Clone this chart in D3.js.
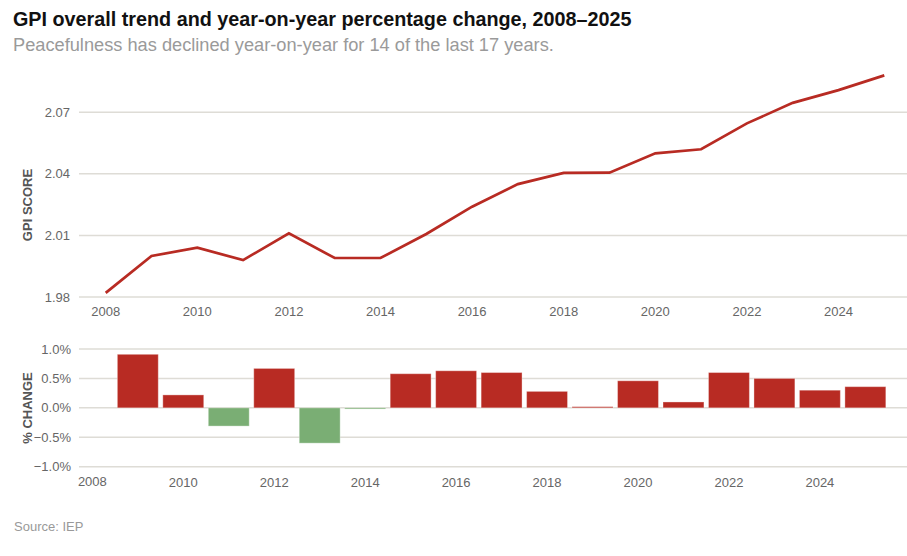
<!DOCTYPE html>
<html>
<head>
<meta charset="utf-8">
<script src="https://cdn.jsdelivr.net/npm/d3@7"></script>
<style>
  body { margin: 0; background: #fff; }
  text { font-family: "Liberation Sans", Arial, Helvetica, sans-serif; }
</style>
</head>
<body>
<div id="graphicContainer"></div>
<script>
// GPI overall score by year
var years = [2008, 2009, 2010, 2011, 2012, 2013, 2014, 2015, 2016, 2017, 2018, 2019, 2020, 2021, 2022, 2023, 2024, 2025]
var gpiScore = [1.982, 2.000, 2.004, 1.998, 2.011, 1.999, 1.999, 2.0107, 2.024, 2.035, 2.0405, 2.0406, 2.050, 2.052, 2.0646, 2.0746, 2.0808, 2.088]
// year-on-year % change (no value for 2008)
var pctChange = [null, 0.91, 0.22, -0.31, 0.67, -0.60, -0.02, 0.58, 0.63, 0.60, 0.28, 0.02, 0.46, 0.10, 0.60, 0.50, 0.30, 0.36]
var scoreTicks = [1.98, 2.01, 2.04, 2.07]
var pctTicks = [-1.0, -0.5, 0.0, 0.5, 1.0]
var yearTicks = [2008, 2010, 2012, 2014, 2016, 2018, 2020, 2022, 2024]

var title = "GPI overall trend and year-on-year percentage change, 2008–2025"
var subtitle = "Peacefulness has declined year-on-year for 14 of the last 17 years."
var source = "Source: IEP"

var width = 907, height = 556
var red = "#b82b23", green = "#7aae74", grid = "#dedcd6"

var svg = d3.select("#graphicContainer").append("svg")
	.attr("width", width)
	.attr("height", height)

// fit text to a measured width from the reference
function fitText(sel, target) {
	var w = sel.node().getComputedTextLength()
	var fs = parseFloat(sel.attr("font-size"))
	sel.attr("font-size", (fs * target / w).toFixed(2))
}

var t = svg.append("text").attr("x", 13).attr("y", 26)
	.attr("font-size", 19).attr("font-weight", "bold").attr("fill", "#111").text(title)
fitText(t, 619)
var st = svg.append("text").attr("x", 13).attr("y", 51)
	.attr("font-size", 17).attr("fill", "#9a9a9a").text(subtitle)
fitText(st, 541)

svg.append("text").attr("x", 14).attr("y", 531)
	.attr("font-size", 13).attr("fill", "#999").text(source)

// ---------- upper: line chart ----------
var x = d3.scaleLinear().domain([2008, 2025]).range([105.7, 884.3])
var y = d3.scaleLinear().domain([1.98, 2.07]).range([297, 112.3])

var upper = svg.append("g")

upper.selectAll(".grid").data(scoreTicks).enter().append("line")
	.attr("x1", 79).attr("x2", 907)
	.attr("y1", d => y(d)).attr("y2", d => y(d))
	.attr("stroke", grid).attr("stroke-width", 1.5)

upper.selectAll(".ylab").data(scoreTicks).enter().append("text")
	.attr("x", 70).attr("y", d => y(d)).attr("dy", "0.35em")
	.attr("text-anchor", "end").attr("font-size", 13).attr("fill", "#666")
	.text(d => d3.format(".2f")(d))

upper.selectAll(".xlab").data(yearTicks).enter().append("text")
	.attr("x", d => x(d)).attr("y", 316)
	.attr("text-anchor", "middle").attr("font-size", 13).attr("fill", "#666")
	.text(d => d)

upper.append("text")
	.attr("transform", "translate(32,205) rotate(-90)")
	.attr("text-anchor", "middle").attr("font-size", 13).attr("font-weight", "bold")
	.attr("fill", "#555").text("GPI SCORE")

var line = d3.line().x((d, i) => x(years[i])).y(d => y(d))
upper.append("path")
	.datum(gpiScore)
	.attr("d", line)
	.attr("fill", "none").attr("stroke", red).attr("stroke-width", 2.7)
	.attr("stroke-linejoin", "miter")

// ---------- lower: bar chart ----------
var xb = d3.scaleBand().domain(years).range([69.6, 888.1]).paddingInner(0.1).paddingOuter(0.05)
var yb = d3.scaleLinear().domain([-1, 1]).range([466.7, 349])

var lower = svg.append("g")

lower.selectAll(".grid").data(pctTicks).enter().append("line")
	.attr("x1", 79).attr("x2", 907)
	.attr("y1", d => yb(d)).attr("y2", d => yb(d))
	.attr("stroke", grid).attr("stroke-width", 1.5)

lower.selectAll(".ylab").data(pctTicks).enter().append("text")
	.attr("x", 71).attr("y", d => yb(d)).attr("dy", "0.35em")
	.attr("text-anchor", "end").attr("font-size", 13).attr("fill", "#666")
	.text(d => d3.format(".1f")(d) + "%")

lower.selectAll(".xlab").data(yearTicks).enter().append("text")
	.attr("x", d => xb(d) + xb.bandwidth() / 2).attr("y", d => d == 2008 ? 485.5 : 487)
	.attr("text-anchor", "middle").attr("font-size", 13).attr("fill", "#666")
	.text(d => d)

lower.append("text")
	.attr("transform", "translate(32,408) rotate(-90)")
	.attr("text-anchor", "middle").attr("font-size", 13).attr("font-weight", "bold")
	.attr("fill", "#555").text("% CHANGE")

var barData = years.map((yr, i) => ({year: yr, value: pctChange[i]})).filter(d => d.value != null)

lower.selectAll("rect").data(barData).enter().append("rect")
	.attr("x", d => xb(d.year))
	.attr("width", xb.bandwidth())
	.attr("y", d => Math.min(yb(d.value), yb(0)))
	.attr("height", d => Math.max(Math.abs(yb(d.value) - yb(0)), 1))
	.attr("fill", d => d.value < 0 ? green : red)
	.attr("stroke", "rgba(255,255,255,0.35)").attr("stroke-width", 1)
</script>
</body>
</html>
